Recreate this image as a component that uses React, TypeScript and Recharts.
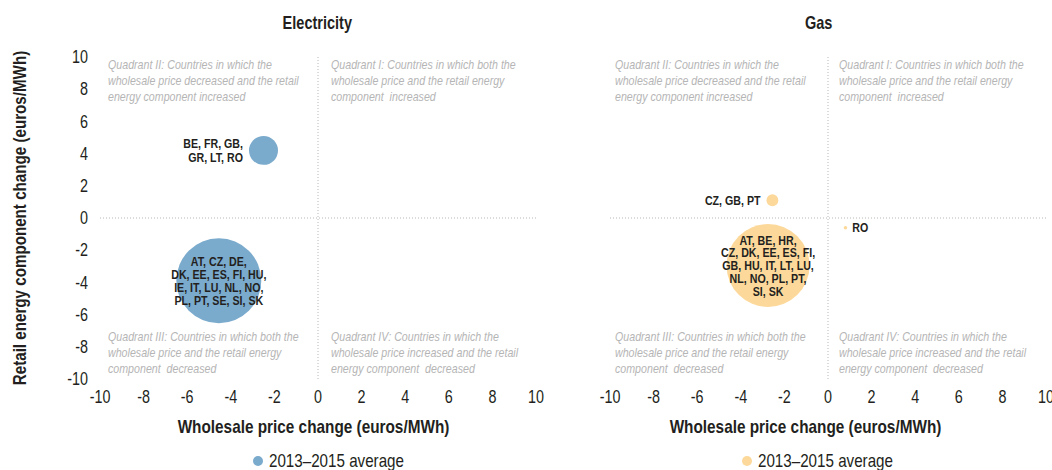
import React from "react";
import { Legend, ReferenceArea, ReferenceLine, Scatter, ScatterChart, XAxis, YAxis, ZAxis, Label } from "recharts";

// wholesale change (x), retail energy component change (y), bubble weight (z)
const elecGroups = ["BE, FR, GB, GR, LT, RO", "AT, CZ, DE, DK, EE, ES, FI, HU, IE, IT, LU, NL, NO, PL, PT, SE, SI, SK"];
const elecX = [-2.5, -4.55];
const elecY = [4.2, -3.9];
const elecZ = [6.6, 56.7];
const elecLines = [["BE, FR, GB,", "GR, LT, RO"], ["AT, CZ, DE,", "DK, EE, ES, FI, HU,", "IE, IT, LU, NL, NO,", "PL, PT, SE, SI, SK"]];

const gasGroups = ["CZ, GB, PT", "RO", "AT, BE, HR, CZ, DK, EE, ES, FI, GB, HU, IT, LT, LU, NL, NO, PL, PT, SI, SK"];
const gasX = [-2.55, 0.8, -2.75];
const gasY = [1.1, -0.6, -2.95];
const gasZ = [1.1, 0.1, 54.1];
const gasLines = [["CZ, GB, PT"], ["RO"], ["AT, BE, HR,", "CZ, DK, EE, ES, FI,", "GB, HU, IT, LT, LU,", "NL, NO, PL, PT,", "SI, SK"]];

const ticks = [-10, -8, -6, -4, -2, 0, 2, 4, 6, 8, 10];
const seriesName = "2013–2015 average";

const quadII = ["Quadrant II: Countries in which the", "wholesale price decreased and the retail", "energy component increased"];
const quadI = ["Quadrant I: Countries in which both the", "wholesale price and the retail energy", "component  increased"];
const quadIII = ["Quadrant III: Countries in which both the", "wholesale price and the retail energy", "component  decreased"];
const quadIV = ["Quadrant IV: Countries in which the", "wholesale price increased and the retail", "energy component  decreased"];

// no Arial Narrow here, so Liberation Sans squeezed horizontally stands in for it
const FONT = "'Liberation Sans', Arial, sans-serif";
const SQUEEZE = 0.82;
const INK = "#231f20";
const BLUE = "#7aaacc";
const GOLD = "#fcd99b";

const elecData = elecGroups.map((g, i) => ({ group: g, x: elecX[i], y: elecY[i], z: elecZ[i], lines: elecLines[i] }));
const gasData = gasGroups.map((g, i) => ({ group: g, x: gasX[i], y: gasY[i], z: gasZ[i], lines: gasLines[i] }));

// where the country list sits relative to its bubble
const labelSide: Record<string, "left" | "right" | "center"> = {
  "BE, FR, GB, GR, LT, RO": "left",
  "CZ, GB, PT": "left",
  RO: "right",
};

function NText({ x, y, lines, lh = 0, anchor = "start", size, weight = "normal", italic = false, fill = INK, dy = "0", rotate = 0 }: any) {
  return (
    <text
      transform={`translate(${x} ${y}) rotate(${rotate}) scale(${SQUEEZE} 1)`}
      textAnchor={anchor}
      fontFamily={FONT}
      fontSize={size}
      fontWeight={weight}
      fontStyle={italic ? "italic" : "normal"}
      fill={fill}
      style={{ whiteSpace: "pre" }}
    >
      {lines.map((l: string, i: number) => (
        <tspan key={i} x={0} y={i * lh} dy={dy}>{l}</tspan>
      ))}
    </text>
  );
}

function Bubble(props: any) {
  const { cx, cy, width, fill, payload } = props;
  const r = width / 2;
  const side = labelSide[payload.group] || "center";
  const lines: string[] = payload.lines;
  const lh = side === "center" ? 12.8 : 13.3;
  const y0 = cy - ((lines.length - 1) * lh) / 2;
  const tx = side === "left" ? cx - r - 6 : side === "right" ? cx + r + 5 : cx;
  const anchor = side === "left" ? "end" : side === "right" ? "start" : "middle";
  return (
    <g>
      <circle cx={cx} cy={cy} r={r} fill={fill} />
      <NText x={tx} y={y0} lines={lines} lh={lh} anchor={anchor} size={13} weight="bold" dy="0.36em" />
    </g>
  );
}

function QuadText({ viewBox, lines, top, dx }: any) {
  const { x, y, height } = viewBox;
  const lh = 15.8;
  const first = top ? y + 12.3 : y + height - 6 - (lines.length - 1) * lh;
  return <NText x={x + dx} y={first} lines={lines} lh={lh} size={13} italic fill="#b5b5b5" />;
}

function XTick({ x, y, payload }: any) {
  return <NText x={x} y={y + 14} lines={[String(payload.value)]} anchor="middle" size={17.5} />;
}

function YTick({ x, y, payload }: any) {
  return <NText x={x} y={y + 6.2} lines={[String(payload.value)]} anchor="end" size={17.5} />;
}

function LegendItem({ payload, color, padLeft }: any) {
  const item = payload && payload[0];
  return (
    <div style={{ height: 24, paddingLeft: padLeft, paddingTop: 5, boxSizing: "border-box", display: "flex", alignItems: "center", fontFamily: FONT, fontSize: 18.5, color: INK, whiteSpace: "nowrap" }}>
      <svg width={10} height={10} style={{ marginRight: 6, flex: "none" }}>
        <circle cx={5} cy={5} r={5} fill={color} />
      </svg>
      <span style={{ display: "inline-block", transform: `scaleX(${SQUEEZE})`, transformOrigin: "left center" }}>{item ? item.value : seriesName}</span>
    </div>
  );
}

function Panel({ title, data, color, width, left, right, showY, titleX, axisTitleDx, legendPad }: any) {
  return (
    <div style={{ position: "absolute", left, top: 0, width, height: 470 }}>
      <div style={{ position: "absolute", left: titleX - 100, top: 12, width: 200, textAlign: "center", fontFamily: FONT, fontSize: 17.7, lineHeight: "22px", fontWeight: "bold", color: INK, zIndex: 1, pointerEvents: "none" }}>
        <span style={{ display: "inline-block", transform: `scaleX(${SQUEEZE})` }}>{title}</span>
      </div>
      <ScatterChart width={width} height={470} margin={{ top: 57, right, bottom: 0, left: showY ? 0 : 65 }}>
        <XAxis type="number" dataKey="x" domain={[-10, 10]} ticks={ticks} interval={0} axisLine={false} tickLine={false} tick={XTick} tickMargin={4} height={67} allowDataOverflow>
          <Label content={(p: any) => {
            const vb = p.viewBox;
            return <NText x={vb.x + vb.width / 2 + axisTitleDx} y={vb.y + 53.5} lines={["Wholesale price change (euros/MWh)"]} anchor="middle" size={18.7} weight="bold" />;
          }} />
        </XAxis>
        <YAxis type="number" dataKey="y" domain={[-10, 10]} ticks={ticks} interval={0} axisLine={false} tickLine={false} tick={YTick} tickMargin={6} width={100} hide={!showY} allowDataOverflow>
          {showY && (
            <Label content={(p: any) => {
              const vb = p.viewBox;
              return <NText x={19} y={vb.y + vb.height / 2} rotate={-90} lines={["Retail energy component change (euros/MWh)"]} anchor="middle" size={18.5} weight="bold" dy="0.36em" />;
            }} />
          )}
        </YAxis>
        <ZAxis type="number" dataKey="z" domain={[0, 60]} range={[0, 6000]} />
        <ReferenceArea x1={-10} x2={0} y1={0} y2={10} fillOpacity={0} strokeOpacity={0} label={(p: any) => <QuadText viewBox={p.viewBox} lines={quadII} top dx={showY ? 8 : 5} />} />
        <ReferenceArea x1={0} x2={10} y1={0} y2={10} fillOpacity={0} strokeOpacity={0} label={(p: any) => <QuadText viewBox={p.viewBox} lines={quadI} top dx={showY ? 13 : 11} />} />
        <ReferenceArea x1={-10} x2={0} y1={-10} y2={0} fillOpacity={0} strokeOpacity={0} label={(p: any) => <QuadText viewBox={p.viewBox} lines={quadIII} dx={showY ? 8 : 5} />} />
        <ReferenceArea x1={0} x2={10} y1={-10} y2={0} fillOpacity={0} strokeOpacity={0} label={(p: any) => <QuadText viewBox={p.viewBox} lines={quadIV} dx={showY ? 13 : 11} />} />
        <ReferenceLine x={0} stroke="#b8b8b8" strokeDasharray="1 2" />
        <ReferenceLine y={0} stroke="#b8b8b8" strokeDasharray="1 2" />
        <Legend verticalAlign="bottom" align="left" wrapperStyle={{ left: 0, bottom: 0, width }} content={(p: any) => <LegendItem payload={p.payload} color={color} padLeft={legendPad} />} />
        <Scatter name={seriesName} data={data} fill={color} isAnimationActive={false} shape={Bubble} />
      </ScatterChart>
    </div>
  );
}

export default function App() {
  return (
    <div style={{ position: "absolute", left: 0, top: 0, width: 1052, height: 470, background: "#fff", overflow: "hidden" }}>
      <Panel title="Electricity" data={elecData} color={BLUE} width={560} right={24} left={0} showY titleX={317.5} axisTitleDx={-4.5} legendPad={253} />
      <Panel title="Gas" data={gasData} color={GOLD} width={507} right={6} left={545} showY={false} titleX={274} axisTitleDx={-22.5} legendPad={197} />
    </div>
  );
}
